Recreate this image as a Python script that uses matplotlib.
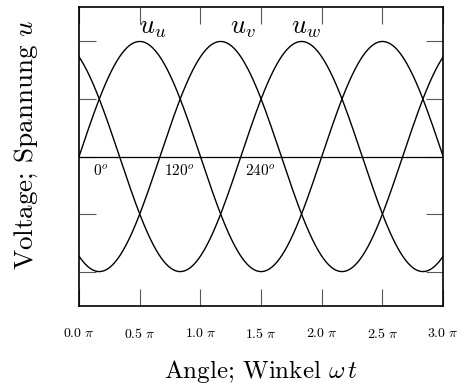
import numpy as np
import matplotlib.pyplot as plt

plt.rcParams['font.family'] = 'cmr10'
plt.rcParams['mathtext.fontset'] = 'cm'
plt.rcParams['axes.formatter.use_mathtext'] = True

# three-phase system: phase shifts of the windings u, v, w
phase_names = [r'$u_u$', r'$u_v$', r'$u_w$']
phase_shift_deg = [0, 120, 240]
amplitude = 1.0

# label positions (in units of pi, voltage)
name_x = [0.61, 1.35, 1.87]
name_y = [1.12, 1.12, 1.12]
shift_labels = [r'$0^o$', r'$120^o$', r'$240^o$']
shift_label_x = [0.18, 0.83, 1.49]
shift_label_y = [-0.12, -0.12, -0.12]

xtick_vals = [0.0, 0.5, 1.0, 1.5, 2.0, 2.5, 3.0]
ytick_vals = [-1.0, -0.5, 0.0, 0.5, 1.0]

fig = plt.figure(figsize=(4.65, 3.86), dpi=100)
ax = fig.add_axes([0.170, 0.207, 0.783, 0.775])

wt = np.linspace(0, 3 * np.pi, 600)
for shift in phase_shift_deg:
    ax.plot(wt, amplitude * np.sin(wt - np.deg2rad(shift)), color='black', lw=1.0)

ax.axhline(0, color='black', lw=0.9)

for name, x, y in zip(phase_names, name_x, name_y):
    ax.text(x * np.pi, y, name, fontsize=19, ha='center', va='center')
for lab, x, y in zip(shift_labels, shift_label_x, shift_label_y):
    ax.text(x * np.pi, y, lab, fontsize=11, ha='center', va='center')

ax.set_xlim(0, 3 * np.pi)
ax.set_ylim(-1.3, 1.3)
ax.set_xticks([v * np.pi for v in xtick_vals])
ax.set_xticklabels([r'$%.1f\ \pi$' % v for v in xtick_vals], fontsize=10)
ax.set_yticks(ytick_vals)
ax.set_yticklabels([])
ax.tick_params(direction='in', length=12, width=0.8, color='0.35',
               top=True, right=True, pad=15)
ax.tick_params(axis='y', pad=4)

for sp in ax.spines.values():
    sp.set_linewidth(1.2)

ax.set_xlabel(r'Angle; Winkel $\omega\,t$', fontsize=18, labelpad=12)
ax.set_ylabel(r'Voltage; Spannung $u$', fontsize=19.5)
ax.yaxis.set_label_coords(-0.108, 0.54)

fig.savefig('out.png', dpi=100)
